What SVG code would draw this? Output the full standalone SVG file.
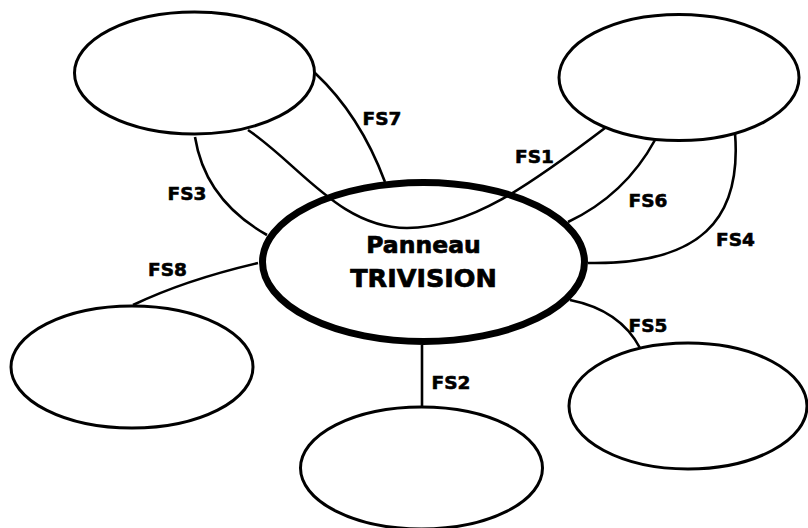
<svg xmlns="http://www.w3.org/2000/svg" width="808" height="528" viewBox="0 0 808 528">
<style>
.node{fill:none;stroke:#000;stroke-width:3}
.main{fill:none;stroke:#000;stroke-width:7}
.conn path{fill:none;stroke:#000;stroke-width:2.6}
.lbl{font-family:"DejaVu Sans",sans-serif;font-weight:bold;font-size:18.5px;fill:#000;stroke:#000;stroke-width:0.6;text-anchor:middle}
.title{font-family:"DejaVu Sans",sans-serif;font-weight:bold;fill:#000;stroke:#000;stroke-width:0.7;text-anchor:middle}
</style>
<rect width="808" height="528" fill="#fff"/>
<g id="n-topleft"><ellipse class="node" cx="194.5" cy="73" rx="120" ry="61"/></g>
<g id="n-topright"><ellipse class="node" cx="679" cy="77.5" rx="120" ry="63"/></g>
<g id="n-bottomleft"><ellipse class="node" cx="132" cy="367" rx="121" ry="61"/></g>
<g id="n-bottommid"><ellipse class="node" cx="421.5" cy="468" rx="121" ry="61"/></g>
<g id="n-bottomright"><ellipse class="node" cx="688" cy="406" rx="119" ry="63"/></g>
<g id="n-center">
<ellipse class="main" cx="423.5" cy="262" rx="161" ry="79.5"/>
<text class="title" x="423.5" y="253" font-size="23.5">Panneau</text>
<text class="title" x="423.5" y="287" font-size="25.5">TRIVISION</text>
</g>
<g id="connectors" class="conn">
<path d="M315,73 Q360,115 385,182"/>
<path d="M195,137 Q205,200 267,235"/>
<path d="M248,130 C300,165 340,228 407,228 C470,228 530,185 605,128"/>
<path d="M655,140 Q625,195 568,222"/>
<path d="M735,133 C742,220 700,265 588,263"/>
<path d="M258,263 Q185,280 133,305"/>
<path d="M570,300 Q620,310 640,348"/>
<path d="M422,345 V406"/>
</g>
<g id="labels">
<text class="lbl" x="382" y="125">FS7</text>
<text class="lbl" x="187" y="200">FS3</text>
<text class="lbl" x="534.5" y="163">FS1</text>
<text class="lbl" x="648" y="207">FS6</text>
<text class="lbl" x="735.5" y="246">FS4</text>
<text class="lbl" x="167.5" y="276">FS8</text>
<text class="lbl" x="648" y="332">FS5</text>
<text class="lbl" x="451" y="389">FS2</text>
</g>
</svg>
